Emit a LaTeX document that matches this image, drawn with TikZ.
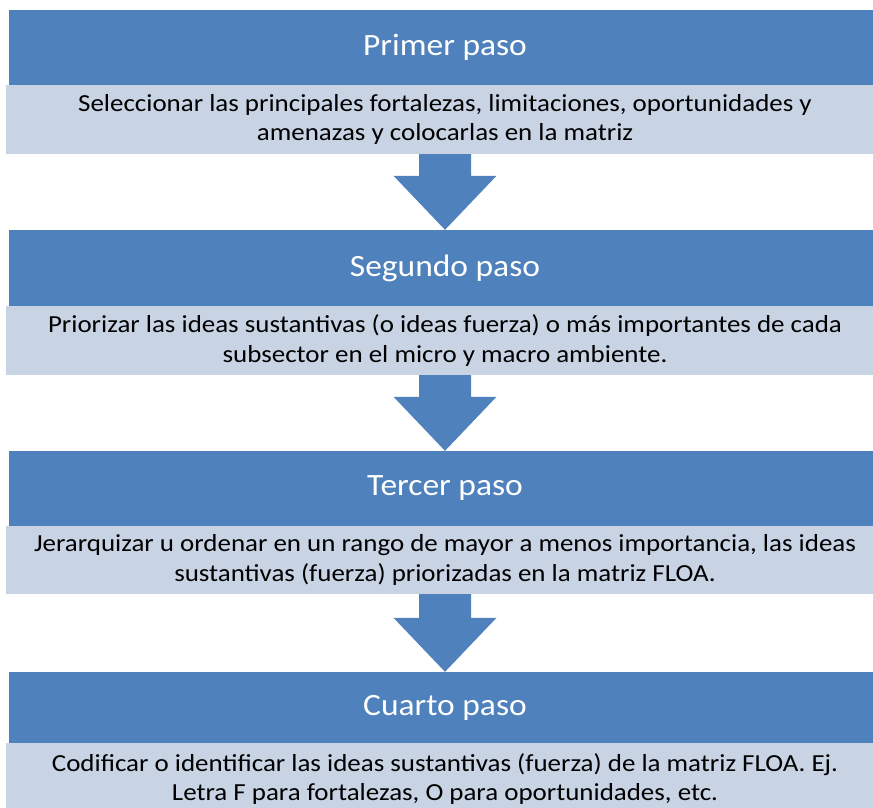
\documentclass[tikz,border=0pt]{standalone}
\usepackage{fontspec}
\setmainfont{Carlito}
\newfontfamily\bodyfont[FakeStretch=1.1]{Carlito}
\newfontfamily\hdrfont[FakeStretch=1.08]{Carlito}
\usetikzlibrary{calc}
\definecolor{hdrblue}{RGB}{79,129,189}
\definecolor{bodyblue}{RGB}{200,211,228}
\tikzset{
  hdr/.style={rectangle, fill=hdrblue, inner sep=0pt, minimum width=872pt, text=white, font=\hdrfont\fontsize{31}{37}\selectfont},
  bodybox/.style={rectangle, fill=bodyblue, inner sep=0pt, minimum width=878pt, text=black, align=center, font=\bodyfont\fontsize{24.5}{29.5}\selectfont},
  downarrow/.style={fill=hdrblue}
}
\begin{document}
\begin{tikzpicture}[x=1pt,y=-1pt]
\clip (0,0) rectangle (873,807);
\fill[white] (0,0) rectangle (873,807);

\node[hdr, minimum height=75pt] (h1) at (445,47.5) {Primer paso};
\node[bodybox, minimum height=69pt] (b1) at (445,119.5) {Seleccionar las principales fortalezas, limitaciones, oportunidades y\\amenazas y colocarlas en la matriz};

\node[hdr, minimum height=76pt] (h2) at (445,268) {Segundo paso};
\node[bodybox, minimum height=69pt] (b2) at (445,340.5) {Priorizar las ideas sustantivas (o ideas fuerza) o más importantes de cada\\subsector en el micro y macro ambiente.};

\node[hdr, minimum height=75pt] (h3) at (445,488.5) {Tercer paso};
\node[bodybox, minimum height=68pt] (b3) at (445,560) {Jerarquizar u ordenar en un rango de mayor a menos importancia, las ideas\\sustantivas (fuerza) priorizadas en la matriz FLOA.};

\node[hdr, minimum height=71pt] (h4) at (445,707.5) {Cuarto paso};
\node[bodybox, minimum height=72pt] (b4) at (445,779) {Codificar o identificar las ideas sustantivas (fuerza) de la matriz FLOA. Ej.\\Letra F para fortalezas, O para oportunidades, etc.};

\foreach \a/\b in {b1/h2, b2/h3, b3/h4}{
  \fill[downarrow] ($(\a.south)+(-26,0)$) -- ($(\a.south)+(26,0)$)
    -- ($(\b.north)+(26,-54)$) -- ($(\b.north)+(51.5,-54)$)
    -- (\b.north) -- ($(\b.north)+(-51.5,-54)$)
    -- ($(\b.north)+(-26,-54)$) -- cycle;
}
\end{tikzpicture}
\end{document}
